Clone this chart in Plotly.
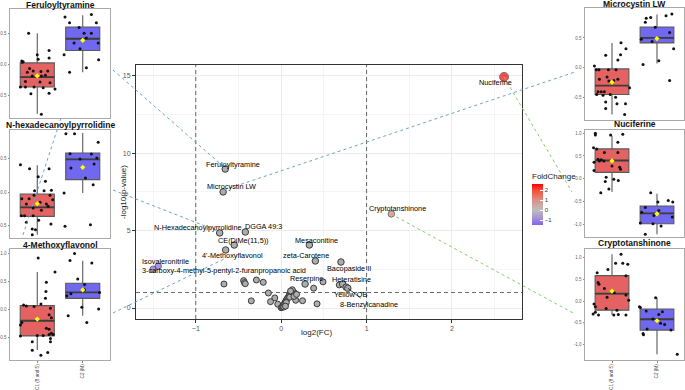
import plotly.graph_objects as go

W, H = 685, 390

# ---------------- volcano data ----------------
lab_names = ["Nuciferine", "Feruloyltyramine", "Microcystin LW", "Cryptotanshinone",
             "N-Hexadecanoylpyrrolidine", "DGGA 49:3", "CE(DiMe(11,5))", "4'-Methoxyflavonol",
             "Mesaconitine", "zeta-Carotene", "Bacopaside II", "Isovaleronitrile",
             "3-carboxy-4-methyl-5-pentyl-2-furanpropanoic acid", "Reserpine", "Heteratisine",
             "Yellow OB", "8-Benzylcanadine"]
lab_fc = [2.61, -0.655, -0.68, 1.29, -0.72, -0.42, -0.55, -0.65, 0.33, 0.40, 0.70, -1.44,
          -1.50, 0.28, 0.72, 0.76, 0.78]
lab_p = [14.93, 8.98, 7.50, 6.08, 4.85, 4.91, 4.07, 3.75, 4.07, 3.04, 2.97, 2.70,
         2.50, 1.55, 1.55, 1.35, 1.28]

other_fc = [-0.67, -0.44, -0.43, -0.42, -0.29, -0.21, -0.15, -0.075, -0.125, -0.35, -0.04,
            0.38, 0.49, 0.17, 0.25, 0.42, 0.68, 0.16,
            0.00, 0.01, 0.02, 0.03, 0.035, 0.04, 0.05, 0.055, 0.06, 0.07, 0.08, 0.09,
            0.095, 0.10, 0.11, 0.12, 0.13, 0.15, 0.14, 0.16, 0.12, 0.10, 0.15, 0.06,
            0.03, 0.05, 0.18, 0.13, 0.11]
other_p = [1.55, 1.77, 1.64, 1.57, 1.81, 1.66, 0.97, 0.65, 0.41, 0.46, 0.25,
           1.28, 1.69, 0.50, 0.47, 0.27, 1.49, 0.84,
           0.02, 0.05, 0.10, 0.15, 0.22, 0.30, 0.38, 0.45, 0.52, 0.60, 0.68, 0.75,
           0.82, 0.90, 0.98, 1.05, 1.12, 1.00, 0.90, 0.95, 0.80, 0.70, 0.75, 0.35,
           0.07, 0.12, 0.88, 1.18, 1.10]

fc_thresholds = [-1, 1]
p_threshold = [1]
color_ticks = [-1, 0, 1, 2]

# ---------------- boxplot panels data ----------------
groups = ["C1 (8 and 5)", "C2 (M)"]

panel_titles = ["Feruloyltyramine", "N-hexadecanoylpyrrolidine", "4-Methoxyflavonol",
                "Microcystin LW", "Nuciferine", "Cryptotanshinone"]
panel_yticks = [[-0.5, 0.0, 0.5], [-0.5, 0.0, 0.5], [-0.5, 0.0, 0.5, 1.0],
                [-0.5, 0.0, 0.5], [-1.0, -0.5, 0.0, 0.5, 1.0], [-1.0, -0.5, 0.0, 0.5, 1.0]]

# box stats per panel: [C1, C2] each (lower whisker, q1, median, q3, upper whisker, mean)
box_stats = [
    [(-0.80, -0.37, -0.21, 0.02, 0.50, -0.19), (-0.13, 0.22, 0.41, 0.60, 0.79, 0.385)],
    [(-0.64, -0.365, -0.23, -0.03, 0.40, -0.175), (-0.015, 0.185, 0.49, 0.585, 0.885, 0.37)],
    [(-0.72, -0.47, -0.20, 0.07, 0.67, -0.17), (-0.11, 0.20, 0.305, 0.47, 0.87, 0.35)],
    [(-0.78, -0.445, -0.295, -0.017, 0.417, -0.24), (0.072, 0.417, 0.50, 0.683, 0.89, 0.49)],
    [(-0.29, 0.14, 0.40, 0.655, 0.945, 0.39), (-1.22, -0.99, -0.76, -0.60, -0.33, -0.77)],
    [(-0.32, -0.21, 0.17, 0.585, 1.08, 0.23), (-1.23, -0.67, -0.42, -0.185, 0.077, -0.455)],
]

# individual samples (jitter offset, value)
pts_c1 = [
    # Feruloyltyramine
    [(-0.19, 0.50), (0.26, 0.22), (0.0, 0.15), (0.02, 0.08), (0.26, 0.10), (-0.34, 0.05),
     (-0.31, 0.04), (-0.33, 0.03), (-0.17, -0.07), (-0.09, -0.11), (-0.22, -0.13), (0.08, -0.12),
     (0.23, -0.11), (-0.11, -0.19), (0.09, -0.19), (0.18, -0.18), (-0.26, -0.28), (0.06, -0.29),
     (0.28, -0.30), (-0.37, -0.37), (-0.26, -0.37), (-0.07, -0.37), (0.13, -0.38), (0.39, -0.40),
     (0.26, -0.47), (-0.14, -0.48), (0.09, -0.81)],
    # N-hexadecanoylpyrrolidine
    [(-0.37, 0.41), (-0.17, 0.35), (0.26, 0.35), (0.02, 0.23), (0.18, 0.16), (-0.06, 0.02),
     (0.15, 0.02), (0.31, 0.025), (-0.34, -0.10), (-0.18, -0.10), (-0.07, -0.05), (0.28, -0.05),
     (0.34, -0.115), (0.06, -0.155), (-0.24, -0.18), (0.20, -0.18), (0.24, -0.215), (-0.09, -0.24),
     (0.09, -0.275), (-0.35, -0.355), (-0.28, -0.355), (-0.09, -0.355), (0.03, -0.425),
     (-0.24, -0.455), (0.30, -0.48), (-0.11, -0.555), (-0.04, -0.565), (-0.11, -0.64)],
    # 4-Methoxyflavonol
    [(0.02, 0.92), (0.39, 0.67), (0.20, 0.485), (0.19, 0.32), (0.18, 0.20), (-0.30, 0.08),
     (-0.24, 0.065), (-0.07, 0.055), (0.08, 0.10), (0.29, 0.025), (0.26, -0.095), (0.31, -0.145),
     (-0.34, -0.23), (-0.37, -0.275), (0.20, -0.335), (0.26, -0.35), (0.31, -0.425),
     (0.26, -0.445), (0.35, -0.445), (-0.37, -0.47), (0.0, -0.465), (0.13, -0.465),
     (0.29, -0.515), (-0.11, -0.575), (0.29, -0.575), (-0.11, -0.725), (0.08, -0.815),
     (0.23, -0.765)],
    # Microcystin LW
    [(0.20, 0.42), (0.31, 0.32), (-0.14, 0.21), (0.19, 0.22), (0.13, 0.13), (-0.39, 0.03),
     (-0.35, -0.03), (-0.29, -0.03), (-0.08, -0.03), (0.09, -0.03), (-0.11, -0.15), (-0.28, -0.19),
     (-0.07, -0.22), (0.04, -0.21), (0.13, -0.19), (0.39, -0.33), (-0.31, -0.40), (-0.24, -0.40),
     (-0.17, -0.40), (-0.34, -0.445), (-0.20, -0.455), (-0.04, -0.445), (0.08, -0.49),
     (-0.14, -0.57), (0.11, -0.60), (0.30, -0.60), (-0.14, -0.68), (0.28, -0.78)],
    # Nuciferine
    [(-0.37, 1.0), (-0.37, 0.96), (-0.03, 0.96), (0.24, 0.975), (0.13, 0.80), (-0.41, 0.68),
     (-0.34, 0.655), (-0.17, 0.575), (0.13, 0.575), (-0.31, 0.43), (-0.24, 0.415), (-0.18, 0.39),
     (-0.28, 0.39), (-0.40, 0.36), (0.0, 0.28), (0.17, 0.25), (0.19, 0.21), (-0.40, 0.18),
     (-0.13, 0.03), (-0.15, -0.06), (0.04, -0.01), (0.14, -0.04), (-0.07, -0.225), (-0.25, -0.31)],
    # Cryptotanshinone
    [(0.20, 1.08), (0.08, 0.87), (0.24, 0.87), (0.35, 0.85), (-0.09, 0.73), (-0.33, 0.65),
     (-0.31, 0.43), (-0.29, 0.385), (0.31, 0.585), (-0.17, 0.29), (0.02, 0.215), (0.05, 0.19),
     (-0.11, 0.085), (0.31, 0.14), (0.37, 0.02), (-0.40, -0.07), (-0.37, -0.13), (-0.13, -0.17),
     (0.11, -0.21), (-0.37, -0.26), (-0.42, -0.30), (-0.30, -0.32), (0.04, -0.32), (0.14, -0.31),
     (0.31, -0.32)],
]
pts_c2 = [
    [(-0.39, 0.76), (-0.29, 0.67), (0.19, 0.80), (0.30, 0.67), (-0.08, 0.59), (0.03, 0.50),
     (0.19, 0.50), (0.08, 0.42), (-0.19, 0.34), (0.34, 0.34), (-0.06, 0.25), (-0.41, 0.15),
     (0.35, 0.07), (0.08, -0.06), (-0.29, -0.13)],
    [(-0.37, 0.875), (-0.18, 0.875), (0.34, 0.745), (-0.28, 0.575), (0.19, 0.57), (-0.06, 0.495),
     (0.31, 0.51), (0.25, 0.42), (-0.26, 0.36), (0.06, 0.21), (0.23, 0.11), (-0.41, -0.015),
     (-0.39, -0.515), (0.17, -0.49)],
    [(-0.18, 1.0), (-0.28, 0.875), (0.20, 0.83), (-0.11, 0.545), (0.04, 0.445), (-0.26, 0.28),
     (-0.35, 0.245), (0.37, 0.305), (0.04, 0.355), (-0.02, 0.04), (0.35, 0.01), (-0.32, -0.11),
     (0.09, -0.23)],
    [(-0.24, 0.83), (-0.14, 0.84), (0.20, 0.87), (0.33, 0.90), (-0.26, 0.76), (-0.04, 0.68),
     (0.28, 0.59), (-0.35, 0.48), (0.02, 0.50), (-0.11, 0.44), (0.37, 0.32), (-0.31, 0.056),
     (0.04, 0.12), (0.28, -0.21)],
    [(-0.14, -0.31), (0.02, -0.51), (0.25, -0.48), (0.35, -0.51), (-0.26, -0.63), (0.04, -0.70),
     (-0.34, -0.735), (-0.07, -0.81), (0.34, -0.84), (-0.37, -0.97), (-0.09, -0.99), (0.09, -1.04),
     (-0.26, -1.22)],
    [(-0.03, 0.077), (-0.39, -0.13), (-0.37, -0.15), (-0.24, -0.23), (0.04, -0.31), (0.12, -0.25),
     (-0.09, -0.415), (0.08, -0.515), (0.17, -0.54), (-0.22, -0.645), (0.31, -0.67),
     (-0.31, -0.75), (-0.30, -0.78), (0.45, -1.23)],
]

# ---------------- layout geometry (pixels) ----------------
def px_x(x):
    return x / W

def px_y(y):
    return 1 - y / H

main_box = (136, 522, 65, 319)
main_xrange = [-1.70, 2.82]
main_yrange = [-0.71, 15.7]
panel_boxes = [(10, 110, 9, 118), (10, 110, 130, 238), (10, 110, 249, 360),
               (585, 684, 8, 120), (585, 684, 130, 237), (585, 684, 249, 360)]
panel_title_y = [5, 125, 245, 4, 124, 243]
panel_yranges = [(-0.87, 0.89), (-0.69, 0.93), (-0.90, 1.08),
                 (-0.87, 1.0), (-1.28, 1.07), (-1.36, 1.20)]

FONT = "Liberation Sans, Arial, sans-serif"
RED = "#E46262"
BLUE = "#7068EE"
BOXW = 0.75

fig = go.Figure()

colorscale = [[0.0, "#8463EE"], [0.182, "#A595D3"], [0.364, "#BEBEBE"],
              [0.607, "#DC9088"], [0.68, "#E57A6C"], [0.85, "#F54C38"], [1.0, "#FF0000"]]

# ---------------- threshold lines (drawn as traces, above grid, below points) ----------------
for v in fc_thresholds:
    fig.add_trace(go.Scatter(x=[v, v], y=main_yrange, mode="lines", xaxis="x", yaxis="y",
                             line=dict(color="#444444", width=0.8, dash="4px,3px"),
                             showlegend=False, hoverinfo="skip"))
for v in p_threshold:
    fig.add_trace(go.Scatter(x=main_xrange, y=[v, v], mode="lines", xaxis="x", yaxis="y",
                             line=dict(color="#444444", width=0.8, dash="4px,3px"),
                             showlegend=False, hoverinfo="skip"))

# ---------------- volcano ----------------
fig.add_trace(go.Scatter(x=other_fc, y=other_p, mode="markers", xaxis="x", yaxis="y",
                         marker=dict(size=6, color="#ADADAD",
                                     line=dict(color="#3A3A3A", width=1)),
                         showlegend=False, hoverinfo="skip"))
gray_idx = [i for i, v in enumerate(lab_fc) if abs(v) < 1]
col_idx = [i for i, v in enumerate(lab_fc) if abs(v) >= 1]
fig.add_trace(go.Scatter(x=[lab_fc[i] for i in gray_idx], y=[lab_p[i] for i in gray_idx],
                         mode="markers", xaxis="x", yaxis="y",
                         marker=dict(size=6.5, color="#ADADAD",
                                     line=dict(color="#3A3A3A", width=1)),
                         showlegend=False, hoverinfo="skip"))
fig.add_trace(go.Scatter(x=[lab_fc[i] for i in col_idx], y=[lab_p[i] for i in col_idx],
                         mode="markers", xaxis="x", yaxis="y",
                         marker=dict(size=[9 if lab_p[i] > 10 else 6.5 for i in col_idx],
                                     color=[lab_fc[i] for i in col_idx],
                                     colorscale=colorscale, cmin=-1.5, cmax=2.62,
                                     line=dict(color="#3A3A3A", width=1),
                                     colorbar=dict(title=dict(text="FoldChange", side="top",
                                                              font=dict(size=8, family=FONT, color="#222")),
                                                   x=px_x(532), xanchor="left", y=px_y(197.5),
                                                   yanchor="middle", len=55 / H, lenmode="fraction",
                                                   thickness=11, thicknessmode="pixels",
                                                   tickvals=color_ticks, ticks="inside", ticklen=3,
                                                   tickcolor="white", outlinewidth=0,
                                                   xpad=0, ypad=0,
                                                   tickfont=dict(size=6, family=FONT, color="#333"))),
                         showlegend=False, hoverinfo="skip"))

label_dx = [-9, 8, 8, 6, -22, 18, 9, 7, 7, -9, 8, 7, 71, 1, 9, 5, 21]
label_dy = [6, -5, -5, -5, -5, -6, -5, 6, -5, -5, 6, -5, 1, -6, -5, 7, 16]
label_arrow = [False] * 15 + [True, True]

annotations = []
for n, x, y, dx, dy, arr in zip(lab_names, lab_fc, lab_p, label_dx, label_dy, label_arrow):
    annotations.append(dict(x=x, y=y, xref="x", yref="y", text=n, showarrow=True,
                            ax=dx, ay=dy, arrowhead=0, arrowwidth=0.8,
                            arrowcolor="#111" if arr else "rgba(0,0,0,0)",
                            standoff=0, startstandoff=2, borderpad=0,
                            font=dict(size=7.3, family=FONT, color="#000000")))

# axis titles of the volcano plot
annotations.append(dict(x=px_x(316), y=px_y(332), xref="paper", yref="paper", text="log2(FC)",
                        showarrow=False, xanchor="center", yanchor="middle",
                        font=dict(size=8, family=FONT, color="#222")))
annotations.append(dict(x=px_x(123), y=px_y(192), xref="paper", yref="paper",
                        text="-log10(p-value)", textangle=-90, showarrow=False,
                        xanchor="center", yanchor="middle",
                        font=dict(size=8, family=FONT, color="#222")))

shapes = []

layout_axes = {}
layout_axes["xaxis"] = dict(domain=[px_x(main_box[0]), px_x(main_box[1])], range=main_xrange,
                            anchor="y", tickvals=[-1, 0, 1, 2], showgrid=True, gridcolor="#EBEBEB",
                            minor=dict(dtick=0.5, tick0=0, showgrid=True, gridcolor="#F5F5F5",
                                       gridwidth=0.6, ticks=""),
                            zeroline=False, showline=True, mirror=True, linecolor="#333",
                            linewidth=1, ticks="outside", ticklen=3, tickcolor="#333",
                            automargin=False,
                            tickfont=dict(size=7, family=FONT, color="#555"))
layout_axes["yaxis"] = dict(domain=[px_y(main_box[3]), px_y(main_box[2])], range=main_yrange,
                            anchor="x", tickvals=[0, 5, 10, 15], showgrid=True, gridcolor="#EBEBEB",
                            minor=dict(dtick=2.5, tick0=0, showgrid=True, gridcolor="#F5F5F5",
                                       gridwidth=0.6, ticks=""),
                            zeroline=False, showline=True, mirror=True, linecolor="#333",
                            linewidth=1, ticks="outside", ticklen=3, tickcolor="#333",
                            automargin=False,
                            tickfont=dict(size=7, family=FONT, color="#555"))

# ---------------- box panels ----------------
for k in range(6):
    ax_n = k + 2
    xa, ya = f"x{ax_n}", f"y{ax_n}"
    x0, x1, y0, y1 = panel_boxes[k]
    bottom = k in (2, 5)
    for g, (stats, pts, col) in enumerate([(box_stats[k][0], pts_c1[k], RED),
                                           (box_stats[k][1], pts_c2[k], BLUE)]):
        lo, q1, med, q3, hi, mean = stats
        pos = g + 1
        fig.add_trace(go.Box(x=[pos], q1=[q1], median=[med], q3=[q3], lowerfence=[lo],
                             upperfence=[hi], width=BOXW, whiskerwidth=0, fillcolor=col,
                             line=dict(color="#5A5A5A", width=1.1), boxpoints=False,
                             xaxis=xa, yaxis=ya, showlegend=False, hoverinfo="skip"))
        # thicker median bar (ggplot style)
        fig.add_trace(go.Scatter(x=[pos - BOXW / 2, pos + BOXW / 2], y=[med, med], mode="lines",
                                 xaxis=xa, yaxis=ya, line=dict(color="#3C3C3C", width=1.8),
                                 showlegend=False, hoverinfo="skip"))
        fig.add_trace(go.Scatter(x=[pos + p[0] for p in pts], y=[p[1] for p in pts],
                                 mode="markers", xaxis=xa, yaxis=ya,
                                 marker=dict(size=3, color="#111"), showlegend=False,
                                 hoverinfo="skip"))
        fig.add_trace(go.Scatter(x=[pos], y=[mean], mode="markers", xaxis=xa, yaxis=ya,
                                 marker=dict(size=4, color="#FFFF00", symbol="diamond"),
                                 showlegend=False, hoverinfo="skip"))
    layout_axes[f"xaxis{ax_n}"] = dict(domain=[px_x(x0), px_x(x1)], range=[0.4, 2.6], anchor=ya,
                                       tickvals=[1, 2], ticktext=groups if bottom else ["", ""],
                                       showticklabels=bottom, tickangle=-90,
                                       ticks="outside" if bottom else "",
                                       ticklen=1.5, tickcolor="#888", automargin=False,
                                       showgrid=False, zeroline=False, showline=True, mirror=True,
                                       linecolor="#AAAAAA", linewidth=1,
                                       tickfont=dict(size=4.6, family=FONT, color="#444"))
    layout_axes[f"yaxis{ax_n}"] = dict(domain=[px_y(y1), px_y(y0)], range=list(panel_yranges[k]),
                                       anchor=xa, tickvals=panel_yticks[k],
                                       ticktext=[f"{v:.1f}" for v in panel_yticks[k]],
                                       ticks="outside", ticklen=1.5, tickcolor="#888",
                                       automargin=False,
                                       showgrid=False, zeroline=False, showline=True, mirror=True,
                                       linecolor="#AAAAAA", linewidth=1,
                                       tickfont=dict(size=4.5, family=FONT, color="#666"))
    annotations.append(dict(x=px_x((x0 + x1) / 2), y=px_y(panel_title_y[k]), xref="paper",
                            yref="paper", text=f"<b>{panel_titles[k]}</b>", showarrow=False,
                            xanchor="center", yanchor="middle", borderpad=0,
                            font=dict(size=8.5, family=FONT, color="#111")))

# ---------------- connector lines (pixels) ----------------
blue_lines = [((113, 70), (224, 167)), ((113, 190), (218, 231)), ((224, 190), (575, 72)),
              ((113, 313), (226, 258)), ((61, 118), (22, 238))]
green_lines = [((504, 77), (572, 192)), ((391, 214), (575, 314))]
for (a, b) in blue_lines:
    shapes.append(dict(type="line", xref="paper", yref="paper", x0=px_x(a[0]), y0=px_y(a[1]),
                       x1=px_x(b[0]), y1=px_y(b[1]),
                       line=dict(color="#6FA3C8", width=1, dash="dot"), layer="above"))
for (a, b) in green_lines:
    shapes.append(dict(type="line", xref="paper", yref="paper", x0=px_x(a[0]), y0=px_y(a[1]),
                       x1=px_x(b[0]), y1=px_y(b[1]),
                       line=dict(color="#86CC6A", width=1, dash="dot"), layer="above"))

fig.update_layout(width=W, height=H, margin=dict(l=0, r=0, t=0, b=0, autoexpand=False),
                  paper_bgcolor="white", plot_bgcolor="white",
                  annotations=annotations, shapes=shapes, **layout_axes)

fig.write_html("out.html", config={"displayModeBar": False},
               post_script="document.body.style.margin='0px';document.body.style.padding='0px';")
